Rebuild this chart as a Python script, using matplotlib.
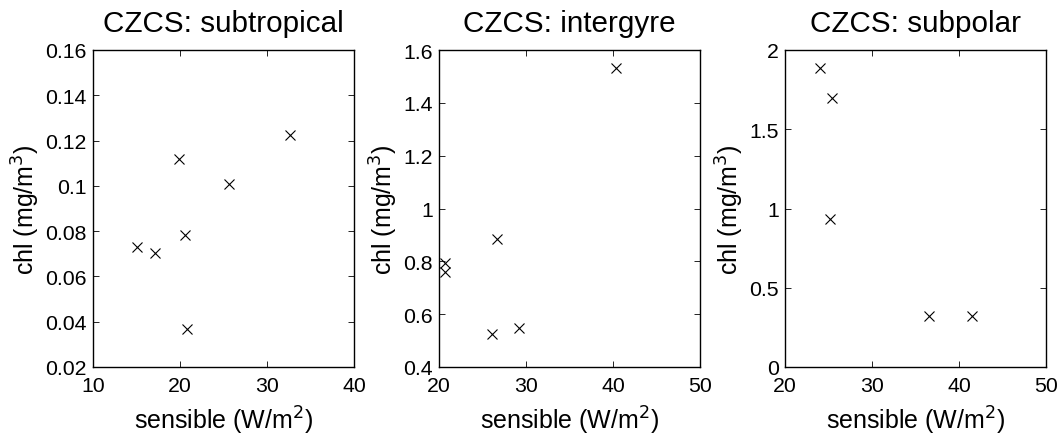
import matplotlib
matplotlib.use("Agg")
import matplotlib.pyplot as plt

plt.rcParams['font.family'] = ['Liberation Sans', 'DejaVu Sans']

titles = ["CZCS: subtropical", "CZCS: intergyre", "CZCS: subpolar"]

sub_x = [15.1, 17.1, 19.9, 20.55, 20.75, 25.65, 32.6]
sub_y = [0.073, 0.0705, 0.112, 0.0785, 0.037, 0.101, 0.1223]

int_x = [40.3, 26.7, 20.7, 20.7, 26.1, 29.2]
int_y = [1.532, 0.886, 0.792, 0.760, 0.525, 0.549]

pol_x = [24.0, 25.4, 25.2, 36.6, 41.5]
pol_y = [1.888, 1.699, 0.935, 0.324, 0.322]

xlims = [(10, 40), (20, 50), (20, 50)]
ylims = [(0.02, 0.16), (0.4, 1.6), (0, 2)]
xticks = [[10, 20, 30, 40], [20, 30, 40, 50], [20, 30, 40, 50]]
yticks = [[0.02, 0.04, 0.06, 0.08, 0.1, 0.12, 0.14, 0.16],
          [0.4, 0.6, 0.8, 1.0, 1.2, 1.4, 1.6],
          [0, 0.5, 1, 1.5, 2]]
ytick_labels = [["0.02", "0.04", "0.06", "0.08", "0.1", "0.12", "0.14", "0.16"],
                ["0.4", "0.6", "0.8", "1", "1.2", "1.4", "1.6"],
                ["0", "0.5", "1", "1.5", "2"]]

data = [(sub_x, sub_y), (int_x, int_y), (pol_x, pol_y)]

fig = plt.figure(figsize=(10.61, 4.39), dpi=100)
lefts = [93 / 1061, 439 / 1061, 785 / 1061]
w = 261 / 1061
b = (439 - 368) / 439
h = 317 / 439

for i in range(3):
    ax = fig.add_axes([lefts[i], b, w, h])
    xs, ys = data[i]
    ax.plot(xs, ys, linestyle='none', marker='x', color='black',
            markersize=6.5, markeredgewidth=0.8)
    ax.set_xlim(*xlims[i])
    ax.set_ylim(*ylims[i])
    ax.set_xticks(xticks[i])
    ax.set_yticks(yticks[i])
    ax.set_yticklabels(ytick_labels[i])
    ax.tick_params(direction='in', top=True, right=True, length=4,
                   width=0.6, labelsize=15.3)
    ax.tick_params(axis='x', pad=6.5)
    ax.tick_params(axis='y', pad=4.5)
    for s in ax.spines.values():
        s.set_linewidth(1.0)
    ax.set_title(titles[i], fontsize=21.3, pad=13.5)
    ax.set_xlabel(r'sensible (W/m$^2$)', fontsize=18, labelpad=6)
    ax.set_ylabel(r'chl (mg/m$^3$)', fontsize=18, labelpad=2.5)

fig.savefig("out.png", dpi=100)
